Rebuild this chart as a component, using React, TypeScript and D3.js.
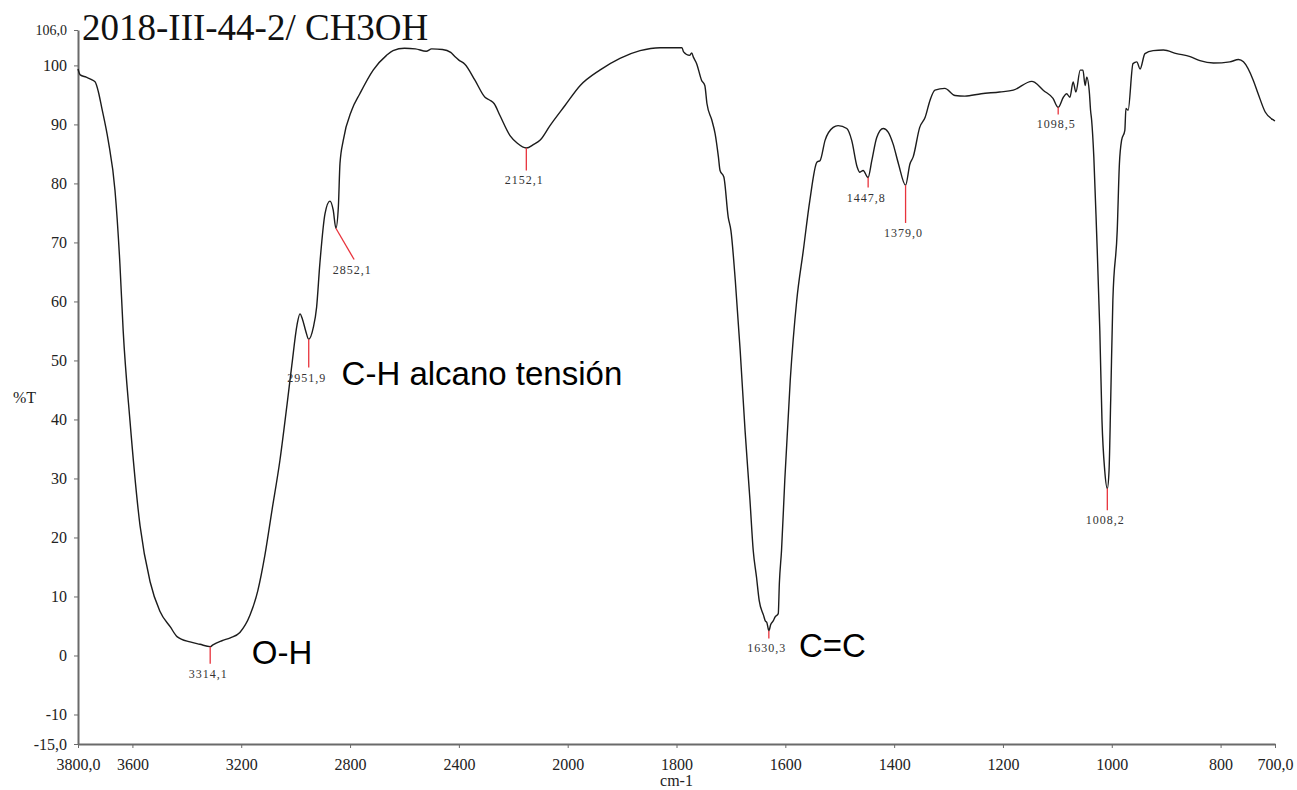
import React, { useEffect, useRef } from "react";
import * as d3 from "d3";

// spectrum (cm-1, %T)
const wavenumbers = [
  3800, 3792, 3770, 3750, 3737, 3725, 3713, 3689, 3664, 3646, 3634, 3609, 3572, 3535, 3499, 3460, 3436, 3388,
  3352, 3314, 3304, 3271, 3240, 3205, 3168, 3139, 3113, 3087, 3058, 3032, 3014, 2995, 2984, 2975, 2963, 2952,
  2935, 2923, 2911, 2892, 2874, 2862, 2852, 2843, 2837, 2825, 2794, 2764, 2715, 2666, 2642, 2600, 2560, 2520,
  2500, 2460, 2430, 2415, 2400, 2378, 2341, 2304, 2286, 2270, 2249, 2212, 2185, 2152, 2125, 2102, 2065, 2010,
  1977, 1941, 1904, 1867, 1830, 1790, 1787, 1776, 1772, 1769, 1763, 1754, 1748, 1744, 1735, 1729, 1723, 1720,
  1713, 1705, 1700, 1692, 1683, 1674, 1665, 1659, 1653, 1648, 1640, 1637, 1634, 1630.3, 1627, 1622, 1619, 1613,
  1611, 1607, 1601, 1591, 1579, 1567, 1555, 1542, 1536, 1527, 1512, 1503, 1487, 1478, 1468, 1463, 1457, 1448,
  1441, 1432, 1420, 1411, 1402, 1392, 1379, 1371, 1365, 1353, 1343, 1334, 1325, 1307, 1288, 1270, 1240, 1206,
  1181, 1147, 1141, 1126, 1108, 1098.5, 1089, 1083, 1077, 1071, 1066, 1058, 1053, 1049, 1046, 1041, 1039, 1037,
  1033, 1028, 1022, 1018, 1013, 1008.2, 1005, 1002, 998, 990, 986, 982, 976, 974, 970, 961, 954, 948, 939, 924,
  905, 881, 856, 838, 813, 783, 767, 758, 740, 731, 718, 702, 700,
];
const transmittance = [
  99.4, 98.4, 98.0, 97.6, 97.2, 95.5, 92.9, 87.3, 78.8, 66.4, 55.1, 39.8, 22.0, 12.5, 7.5, 4.8, 3.2, 2.3,
  1.9, 1.5, 1.8, 2.5, 3.0, 3.9, 6.8, 11.0, 17.0, 24.6, 33.0, 42.4, 49.2, 56.0, 57.9, 57.0, 55.0, 53.6,
  55.6, 59.0, 66.4, 74.9, 77.0, 75.5, 72.4, 76.0, 83.4, 87.3, 92.4, 95.2, 99.2, 101.7, 102.5, 102.9, 102.8, 102.4,
  102.8, 102.7, 102.2, 101.5, 100.9, 100.2, 97.5, 94.6, 94.1, 93.5, 91.5, 88.1, 86.8, 86.0, 86.6, 87.3, 89.8, 93.2,
  96.6, 99.2, 101.2, 102.5, 103.0, 103.0, 102.3, 101.7, 102.1, 101.4, 100.3, 97.5, 96.6, 93.5, 90.7, 88.4, 84.5, 82.2,
  81.1, 74.3, 72.0, 63.6, 51.7, 38.1, 26.3, 17.8, 13.3, 9.3, 6.8, 5.9, 5.6, 4.2, 5.2, 5.9, 6.5, 7.1,
  12.2, 17.8, 29.7, 46.6, 60.2, 68.6, 77.1, 83.6, 83.9, 87.3, 89.5, 89.8, 89.3, 87.3, 82.8, 81.9, 82.2, 81.0,
  83.9, 87.8, 89.3, 88.7, 86.7, 83.3, 79.7, 83.3, 84.5, 89.5, 91.2, 94.1, 95.8, 96.1, 94.9, 94.8, 95.2, 95.5,
  95.8, 97.3, 97.1, 95.8, 94.4, 92.9, 94.6, 95.2, 94.6, 97.2, 95.5, 99.2, 99.2, 96.6, 98.0, 95.2, 92.4, 90.7,
  84.5, 72.0, 55.1, 39.8, 31.4, 28.3, 31.4, 43.2, 60.2, 72.0, 83.3, 87.3, 89.0, 92.7, 92.4, 100.3, 100.6, 99.4, 102.0, 102.5,
  102.6, 102.0, 101.5, 100.8, 100.4, 100.6, 101.0, 100.6, 97.5, 95.2, 92.1, 90.7, 90.6,
];

// peak markers: label, tip (cm-1, %T), end of the red leader (cm-1, %T)
const peakLabels = ["3314,1", "2951,9", "2852,1", "2152,1", "1630,3", "1447,8", "1379,0", "1098,5", "1008,2"];
const peakWn = [3314.1, 2951.9, 2852.1, 2152.1, 1630.3, 1447.8, 1379.0, 1098.5, 1008.2];
const peakT = [1.5, 53.6, 72.4, 86.0, 4.2, 81.0, 79.7, 92.9, 28.3];
const leaderWn = [3314.1, 2951.9, 2785, 2152.1, 1630.3, 1447.8, 1379.0, 1098.5, 1008.2];
const leaderT = [-1.4, 48.8, 67.1, 82.2, 2.9, 79.3, 73.3, 91.7, 24.6];

// band assignments written on the chart
const bandTexts = ["O-H", "C-H alcano tensión", "C=C"];
const bandWn = [3161, 2831, 1575];
const bandT = [-1.4, 45.8, -0.2];

const xTicks = [3800, 3600, 3200, 2800, 2400, 2000, 1800, 1600, 1400, 1200, 1000, 800, 700];
const yTicks = [-15, -10, 0, 10, 20, 30, 40, 50, 60, 70, 80, 90, 100, 106];

const title = "2018-III-44-2/ CH3OH";

export default function App() {
  const svgRef = useRef<SVGSVGElement | null>(null);
  const width = 1297;
  const height = 790;

  useEffect(() => {
    const svg = d3.select(svgRef.current);
    svg.selectAll("*").remove();

    // x is expanded 2x below 2000 cm-1
    const x = d3.scaleLinear().domain([3800, 2000, 700]).range([78, 567.7, 1275]);
    const y = d3.scaleLinear().domain([-15, 106]).range([744, 30]);

    const serif = "'Liberation Serif', 'Times New Roman', serif";
    const sans = "'Liberation Sans', Arial, sans-serif";
    const comma = (d: number) => d.toFixed(1).replace(".", ",");

    // y axis
    const yAxis = d3
      .axisLeft(y)
      .tickValues(yTicks)
      .tickSize(4)
      .tickSizeOuter(0)
      .tickPadding(7)
      .tickFormat((d: any) => (d === -15 || d === 106 ? comma(d) : String(d)));
    const gy = svg.append("g").attr("transform", "translate(78,0)").call(yAxis).attr("font-family", null);
    gy.select(".domain").attr("stroke", "#6a6a6a").attr("stroke-width", 2);
    gy.selectAll(".tick line").attr("stroke", "#6a6a6a");
    gy.selectAll("text")
      .style("font-family", serif)
      .style("font-size", (d: any) => (d === 106 ? "14px" : "16px"))
      .attr("fill", "#222");

    // x axis
    const xAxis = d3
      .axisBottom(x)
      .tickValues(xTicks)
      .tickSize(4)
      .tickSizeOuter(0)
      .tickPadding(11)
      .tickFormat((d: any) => (d === 3800 || d === 700 ? comma(d) : String(d)));
    const gx = svg.append("g").attr("transform", "translate(0,744)").call(xAxis).attr("font-family", null);
    gx.select(".domain").attr("stroke", "#6a6a6a").attr("stroke-width", 2);
    gx.selectAll(".tick line").attr("stroke", "#6a6a6a");
    gx.selectAll("text").style("font-family", serif).style("font-size", "16px").attr("fill", "#222");

    // axis titles
    svg
      .append("text")
      .attr("x", x(1800))
      .attr("y", 786)
      .attr("text-anchor", "middle")
      .style("font-family", serif)
      .style("font-size", "16px")
      .attr("fill", "#222")
      .text("cm-1");
    svg
      .append("text")
      .attr("x", 13)
      .attr("y", 403)
      .style("font-family", serif)
      .style("font-size", "16px")
      .attr("fill", "#222")
      .text("%T");

    // title
    svg
      .append("text")
      .attr("x", 82)
      .attr("y", 40)
      .style("font-family", serif)
      .style("font-size", "37px")
      .attr("fill", "#111")
      .text(title);

    // spectrum
    const points = wavenumbers.map((w, i) => [w, transmittance[i]] as [number, number]);
    const line = d3
      .line<[number, number]>()
      .x((d) => x(d[0]))
      .y((d) => y(d[1]))
      .curve(d3.curveMonotoneX);
    svg
      .append("path")
      .datum(points)
      .attr("d", line)
      .attr("fill", "none")
      .attr("stroke", "#1c1c1c")
      .attr("stroke-width", 1.4)
      .attr("stroke-linejoin", "round");

    // peak markers
    peakLabels.forEach((lab, i) => {
      svg
        .append("line")
        .attr("x1", x(peakWn[i]))
        .attr("y1", y(peakT[i]))
        .attr("x2", x(leaderWn[i]))
        .attr("y2", y(leaderT[i]))
        .attr("stroke", "#e8333c")
        .attr("stroke-width", 1.3);
      svg
        .append("text")
        .attr("x", x(leaderWn[i]) - 2)
        .attr("y", y(leaderT[i]) + 14)
        .attr("text-anchor", "middle")
        .style("font-family", serif)
        .style("font-size", "12px")
        .attr("letter-spacing", 1)
        .attr("fill", "#333")
        .text(lab);
    });

    // band assignments
    bandTexts.forEach((t, i) => {
      svg
        .append("text")
        .attr("x", x(bandWn[i]))
        .attr("y", y(bandT[i]))
        .style("font-family", sans)
        .style("font-size", "33px")
        .attr("fill", "#000")
        .text(t);
    });
  }, []);

  return (
    <svg
      ref={svgRef}
      width={width}
      height={height}
      style={{ position: "absolute", left: 0, top: 0, background: "#fff" }}
    ></svg>
  );
}
